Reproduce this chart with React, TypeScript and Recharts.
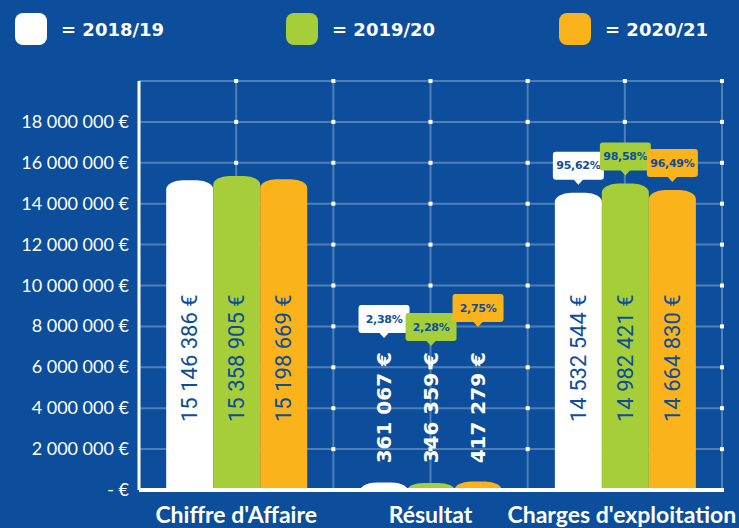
import { BarChart, Bar, XAxis, YAxis, CartesianGrid, LabelList } from 'recharts';

const categories = ["Chiffre d'Affaire", 'Résultat', "Charges d'exploitation"];
const seriesNames = ['2018/19', '2019/20', '2020/21'];
const values1819 = [15146386, 361067, 14532544];
const values1920 = [15358905, 346359, 14982421];
const values2021 = [15198669, 417279, 14664830];
const pct1819 = ['', '2,38%', '95,62%'];
const pct1920 = ['', '2,28%', '98,58%'];
const pct2021 = ['', '2,75%', '96,49%'];
const yTicks = [0, 2000000, 4000000, 6000000, 8000000, 10000000, 12000000, 14000000, 16000000, 18000000, 20000000];

const BLUE = '#0c4e9c';
const colors = ['#ffffff', '#a6ce39', '#fbb31b'];
const GRID = 'rgba(255,255,255,0.28)';

const data = categories.map((name, i) => ({
    name,
    v1819: values1819[i],
    v1920: values1920[i],
    v2021: values2021[i],
}));

// "15 146 386 €"
const fmt = (n: number) => String(n).replace(/\B(?=(\d{3})+(?!\d))/g, ' ') + ' €';

// barre avec le haut arrondi (coins elliptiques)
const RoundTop = (p: any) => {
    const { x, y, width: w, height: h, fill } = p;
    if (!h || h <= 0) return null;
    const rx = Math.min(16, w / 2);
    const ry = Math.min(9, h);
    const d = `M${x},${y + h} L${x},${y + ry} A${rx},${ry} 0 0 1 ${x + rx},${y} L${x + w - rx},${y} A${rx},${ry} 0 0 1 ${x + w},${y + ry} L${x + w},${y + h} Z`;
    return <path d={d} fill={fill} />;
};

const RESULT_LABEL_TOP = 352;

// resultTip : position de la pointe de la bulle pour la catégorie Résultat
const makeLabel = (color: string, pcts: string[], resultTip: number) => (props: any) => {
    const vb = props.viewBox || {};
    const x = props.x ?? vb.x;
    const y = props.y ?? vb.y;
    const width = props.width ?? vb.width;
    const height = props.height ?? vb.height;
    const { value, index } = props;
    const cx = x + width / 2;
    const bottom = y + height;
    const pct = pcts[index];
    const tipY = index === 1 ? resultTip : y - 8;
    return (
        <g>
            {index === 1 ? (
                <text
                    x={cx}
                    y={RESULT_LABEL_TOP}
                    transform={`rotate(-90 ${cx} ${RESULT_LABEL_TOP})`}
                    textAnchor="end"
                    dominantBaseline="central"
                    fill="#ffffff"
                    fontFamily="DejaVu Sans"
                    fontWeight="bold"
                    fontSize={20}
                >
                    {fmt(value)}
                </text>
            ) : (
                <text
                    x={cx}
                    y={bottom - 68}
                    transform={`rotate(-90 ${cx} ${bottom - 68})`}
                    textAnchor="start"
                    dominantBaseline="central"
                    fill={BLUE}
                    fontFamily="Roboto"
                    fontSize={22}
                >
                    {fmt(value)}
                </text>
            )}
            {pct && (
                <g>
                    <rect x={cx - 25.5} y={tipY - 33} width={51} height={28} rx={3} fill={color} />
                    <path d={`M${cx - 5},${tipY - 5.5} L${cx + 5},${tipY - 5.5} L${cx},${tipY} Z`} fill={color} />
                    <text
                        x={cx}
                        y={tipY - 19}
                        textAnchor="middle"
                        dominantBaseline="central"
                        fill={BLUE}
                        fontFamily="DejaVu Sans"
                        fontWeight="bold"
                        fontSize={11}
                        letterSpacing={-0.3}
                    >
                        {pct}
                    </text>
                </g>
            )}
        </g>
    );
};

// lignes horizontales + petits repères blancs aux intersections
const HLine = (p: any) => {
    const { x1, y1, x2, y2 } = p;
    const step = (x2 - x1) / 6;
    return (
        <g>
            <line x1={x1} y1={y1} x2={x2} y2={y2} stroke={GRID} strokeWidth={2} />
            {[1, 2, 3, 4, 5, 6].map((i) => (
                <rect key={i} x={x1 + i * step - 2} y={y1 - 2} width={4} height={4} fill="#ffffff" />
            ))}
        </g>
    );
};

const YTick = (p: any) => {
    const { x, y, payload } = p;
    return (
        <text x={x} y={y} dy={6} textAnchor="end" fill="#ffffff" fontFamily="Lato" fontSize={18}>
            {payload.value === 0 ? '- €' : fmt(payload.value)}
        </text>
    );
};

const XTick = (p: any) => {
    const { x, y, payload, index } = p;
    return (
        <text
            x={x + (index === 2 ? -3 : 0)}
            y={y + 25}
            textAnchor="middle"
            fill="#ffffff"
            fontFamily="Lato"
            fontWeight="bold"
            fontSize={23}
        >
            {payload.value}
        </text>
    );
};

const legendX = [15, 286, 559];

export default function App() {
    return (
        <div style={{ position: 'absolute', left: 0, top: 0, width: 739, height: 528, background: BLUE, overflow: 'hidden' }}>
            {seriesNames.map((s, i) => (
                <div key={s} style={{ position: 'absolute', left: legendX[i], top: 13, display: 'flex', alignItems: 'center' }}>
                    <div style={{ width: 32, height: 32, borderRadius: 8, background: colors[i] }} />
                    <span style={{ marginLeft: 14, color: '#ffffff', fontFamily: 'DejaVu Sans', fontWeight: 'bold', fontSize: 18 }}>
                        = {s}
                    </span>
                </div>
            ))}
            <BarChart
                width={739}
                height={528}
                data={data}
                margin={{ top: 81, right: 17, left: 0, bottom: 0 }}
                barCategoryGap="14%"
                barGap={0}
            >
                <CartesianGrid
                    horizontal={HLine}
                    stroke={GRID}
                    strokeWidth={2}
                    verticalCoordinatesGenerator={({ offset }: any) =>
                        [0, 1, 2, 3, 4, 5, 6].map((i) => offset.left + (i * offset.width) / 6)
                    }
                />
                <XAxis
                    dataKey="name"
                    height={38}
                    axisLine={{ stroke: '#ffffff', strokeWidth: 4 }}
                    tickLine={false}
                    tick={<XTick />}
                    interval={0}
                />
                <YAxis
                    width={139}
                    domain={[0, 20000000]}
                    ticks={yTicks}
                    axisLine={{ stroke: '#ffffff', strokeWidth: 3 }}
                    tickLine={false}
                    tickMargin={4}
                    tick={(p: any) => (p.payload.value === 20000000 ? <g /> : <YTick {...p} />)}
                />
                <Bar dataKey="v1819" fill={colors[0]} shape={RoundTop} isAnimationActive={false}>
                    <LabelList dataKey="v1819" content={makeLabel(colors[0], pct1819, 338)} />
                </Bar>
                <Bar dataKey="v1920" fill={colors[1]} shape={RoundTop} isAnimationActive={false}>
                    <LabelList dataKey="v1920" content={makeLabel(colors[1], pct1920, 346)} />
                </Bar>
                <Bar dataKey="v2021" fill={colors[2]} shape={RoundTop} isAnimationActive={false}>
                    <LabelList dataKey="v2021" content={makeLabel(colors[2], pct2021, 327)} />
                </Bar>
            </BarChart>
        </div>
    );
}
